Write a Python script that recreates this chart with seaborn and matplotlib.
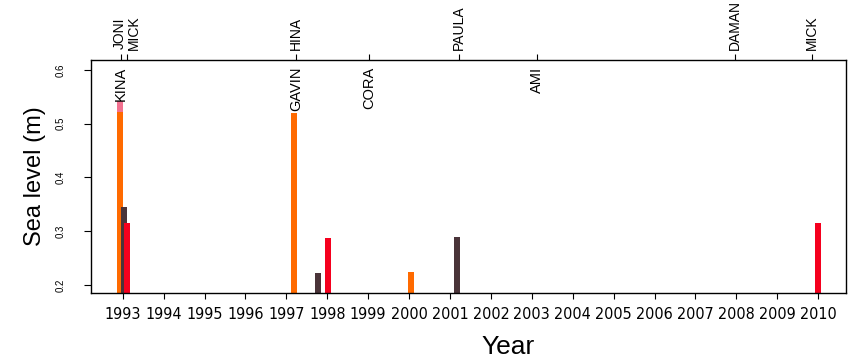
import matplotlib
matplotlib.use('Agg')
import matplotlib.pyplot as plt
import matplotlib.transforms as mtransforms
import numpy as np
import pandas as pd
import seaborn as sns

# ---------------- data ----------------
series = ['pink', 'orange', 'dark', 'red']
pink_years = [1992.93]
pink_levels = [0.543]
orange_years = [1992.93, 1997.18, 2000.05]
orange_levels = [0.522, 0.520, 0.224]
dark_years = [1993.04, 1997.77, 2001.17]
dark_levels = [0.345, 0.222, 0.289]
red_years = [1993.10, 1998.02, 2010.00]
red_levels = [0.315, 0.287, 0.315]

year_ticks = list(range(1993, 2011))
year_labels = [str(y) for y in year_ticks]
level_ticks = [0.2, 0.3, 0.4, 0.5, 0.6]
level_labels = ['0.2', '0.3', '0.4', '0.5', '0.6']

top_names = ['JONI\nMICK', 'HINA', 'PAULA', 'DAMAN', 'MICK']
top_years = [1993.10, 1997.24, 2001.21, 2007.96, 2009.84]
inner_names = ['KINA', 'GAVIN', 'CORA', 'AMI']
inner_years = [1992.95, 1997.24, 1999.03, 2003.12]

palette = {'pink': '#f2708f', 'orange': '#ff6a00', 'dark': '#4a3439', 'red': '#f5001e'}

df = pd.concat([
    pd.DataFrame({'year': pink_years, 'level': pink_levels, 'series': 'pink'}),
    pd.DataFrame({'year': orange_years, 'level': orange_levels, 'series': 'orange'}),
    pd.DataFrame({'year': dark_years, 'level': dark_levels, 'series': 'dark'}),
    pd.DataFrame({'year': red_years, 'level': red_levels, 'series': 'red'}),
], ignore_index=True)

# ---------------- style ----------------
sns.set_style('ticks')
plt.rcParams['font.family'] = ['Liberation Sans', 'DejaVu Sans']
for key in ['text.color', 'axes.labelcolor', 'xtick.color', 'ytick.color',
            'xtick.labelcolor', 'ytick.labelcolor']:
    plt.rcParams[key] = 'black'

fig = plt.figure(figsize=(8.57, 3.62), dpi=100)
ax = fig.add_axes([91/857, 1-293/362, (846-91)/857, (293-60)/362])

bar_width = 0.15
native_unit = np.diff(np.unique(df['year'])).min()
sns.barplot(data=df, x='year', y='level', hue='series', hue_order=series,
            palette=palette, native_scale=True, dodge=False,
            width=bar_width/native_unit, saturation=1, errorbar=None,
            legend=False, linewidth=0, orient='x', ax=ax)

ax.set_xlim(1992.225, 2010.68)
ax.set_ylim(0.1851, 0.6186)

ax.set_xticks(year_ticks)
ax.set_xticklabels(year_labels, fontfamily='DejaVu Sans',
                   fontstretch='condensed', fontsize=11.5)
ax.tick_params(axis='x', length=4, width=0.8, pad=6, color='black')
ax.set_yticks(level_ticks)
ax.set_yticklabels(level_labels, rotation=90, va='center', fontsize=7)
ax.tick_params(axis='y', length=5, width=0.8, pad=13, color='black')

for s in ax.spines.values():
    s.set_visible(True)
    s.set_color('black')
    s.set_linewidth(1.0)

ax.set_xlabel('Year', fontsize=19)
ax.xaxis.set_label_coords(0.553, -0.18)
ax.set_ylabel('Sea level (m)', fontsize=17)
ax.yaxis.set_label_coords(-0.06, 0.5)

# top axis with cyclone names
ax2 = ax.twiny()
ax2.set_xlim(ax.get_xlim())
ax2.set_xticks(top_years)
ax2.set_xticklabels(top_names, rotation=90, fontsize=10, linespacing=1.05)
ax2.set_xticks(inner_years, minor=True)
ax2.tick_params(axis='x', which='both', length=4, width=0.8, pad=3, color='black')
for s in ax2.spines.values():
    s.set_visible(False)

trans = mtransforms.blended_transform_factory(ax.transData, ax.transAxes)
for name, yr in zip(inner_names, inner_years):
    ax.text(yr, 0.972, name, transform=trans, rotation=90, ha='center',
            va='top', fontsize=10.5, color='black')

fig.savefig('out.png', dpi=100)
